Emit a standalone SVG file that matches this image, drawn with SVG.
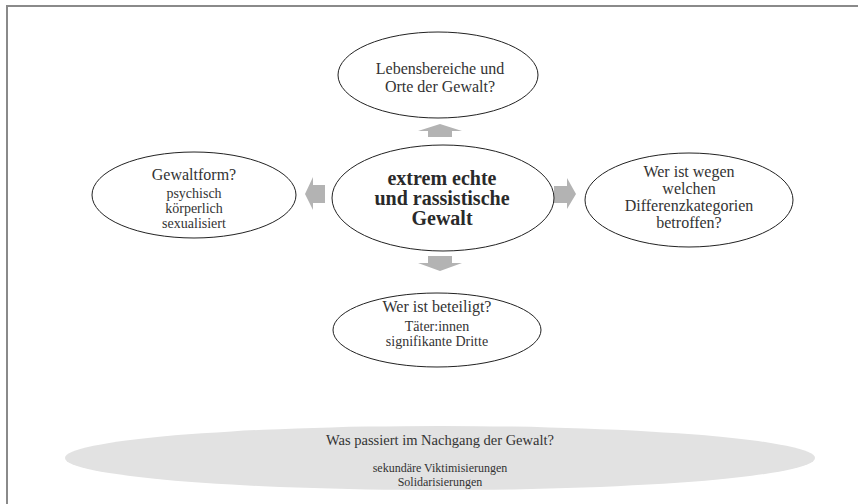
<svg xmlns="http://www.w3.org/2000/svg" width="858" height="504" viewBox="0 0 858 504">
<style>
.e{fill:#fff;stroke:#222;stroke-width:1}
.t{font-family:"Liberation Serif","Times New Roman",serif;fill:#333;text-anchor:middle}
.h{font-size:16px}
.s{font-size:14px}
.b{font-size:20px;font-weight:bold;fill:#2a2a2a}
.a{fill:#b3b3b3}
.f{stroke:#8a8a8a;stroke-width:2;fill:none}
</style>
<rect width="858" height="504" fill="#fff"/>
<path class="f" d="M7,504 V6 H858"/>
<g id="bottom-ellipse">
<ellipse cx="440" cy="458" rx="375" ry="32" fill="#e2e2e2"/>
<text class="t" x="440" y="445" font-size="14.5">Was passiert im Nachgang der Gewalt?</text>
<text class="t" x="440" y="472" font-size="12">sekundäre Viktimisierungen</text>
<text class="t" x="440" y="486" font-size="12">Solidarisierungen</text>
</g>
<g id="connectors">
<polygon class="a" points="428,137 428,131 418,131 440,124 462,131 452,131 452,137"/>
<polygon class="a" points="428,256 452,256 452,263 462,263 440,271 418,263 428,263"/>
<polygon class="a" points="325,185 325,203 313,203 313,210 305,194 313,177 313,185"/>
<polygon class="a" points="554,186 567,186 567,178 576,194 567,209 567,203 554,203"/>
</g>
<g id="top">
<ellipse class="e" cx="438" cy="75" rx="100" ry="43"/>
<text class="t h" x="440" y="74">Lebensbereiche und</text>
<text class="t h" x="440" y="92">Orte der Gewalt?</text>
</g>
<g id="center">
<ellipse class="e" cx="443" cy="198" rx="111" ry="53"/>
<text class="t b" x="442" y="185">extrem echte</text>
<text class="t b" x="442" y="205">und rassistische</text>
<text class="t b" x="442" y="225">Gewalt</text>
</g>
<g id="left">
<ellipse class="e" cx="194" cy="195" rx="102" ry="43"/>
<text class="t h" x="194" y="180">Gewaltform?</text>
<text class="t s" x="194" y="198">psychisch</text>
<text class="t s" x="194" y="213">körperlich</text>
<text class="t s" x="194" y="228">sexualisiert</text>
</g>
<g id="right">
<ellipse class="e" cx="689" cy="200" rx="104" ry="47"/>
<text class="t h" x="689" y="177">Wer ist wegen</text>
<text class="t h" x="689" y="194">welchen</text>
<text class="t h" x="689" y="211">Differenzkategorien</text>
<text class="t h" x="689" y="228">betroffen?</text>
</g>
<g id="bottom">
<ellipse class="e" cx="437" cy="330" rx="104" ry="37"/>
<text class="t h" x="437" y="312">Wer ist beteiligt?</text>
<text class="t s" x="437" y="331">Täter:innen</text>
<text class="t s" x="437" y="346">signifikante Dritte</text>
</g>
</svg>
